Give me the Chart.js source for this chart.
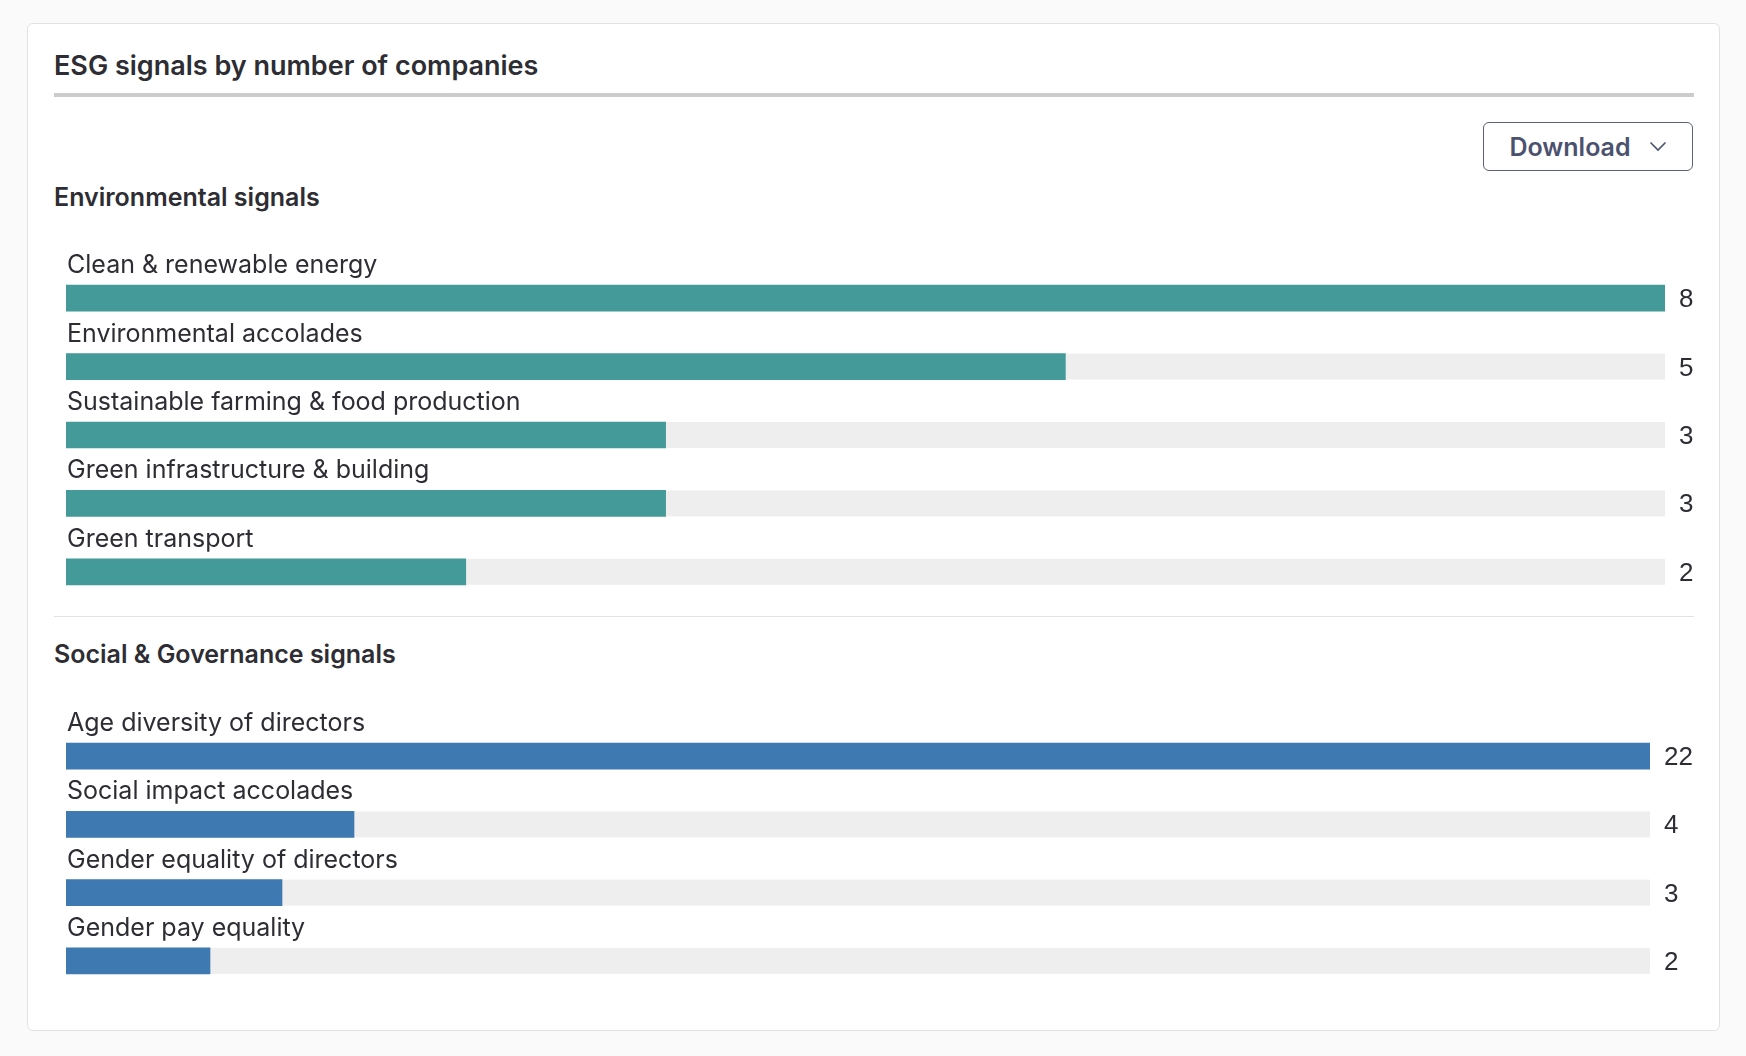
<!DOCTYPE html>
<html>
<head>
<meta charset="utf-8">
<script src="https://cdn.jsdelivr.net/npm/chart.js@4.4.1/dist/chart.umd.min.js"></script>
<style>
  html, body { margin:0; padding:0; background:#fafafa; }
  body { width:1746px; height:1056px; position:relative; overflow:hidden; font-family: Inter, "Noto Sans", sans-serif; color:#2d2d33; }
  .card { position:absolute; left:27px; top:23px; width:1693px; height:1008px; background:#fff; border:1px solid #e2e2e2; border-radius:6px; box-sizing:border-box; }
  .t { position:absolute; white-space:nowrap; line-height:1; }
  .title { left:54px; top:52px; font-size:27px; font-weight:600; }
  .rule { position:absolute; left:54px; top:93px; width:1640px; height:4px; background:#cccccc; }
  .sep { position:absolute; left:54px; top:616px; width:1640px; height:1px; background:#e3e3e3; }
  .sub { left:54px; font-size:25px; font-weight:600; }
  .btn { position:absolute; left:1483px; top:122px; width:210px; height:49px; box-sizing:border-box; border:1.5px solid #5b6178; border-radius:6px; display:flex; align-items:center; justify-content:center; gap:18px; color:#4b5270; font-size:25px; font-weight:600; }
  canvas { position:absolute; }
</style>
</head>
<body>
<div class="card"></div>
<div class="t title">ESG signals by number of companies</div>
<div class="rule"></div>
<div class="btn"><span>Download</span><svg width="18" height="11" viewBox="0 0 18 11"><polyline points="1.5,1.5 9,9 16.5,1.5" fill="none" stroke="#4b5270" stroke-width="1.6"/></svg></div>
<div class="t sub" style="top:185px">Environmental signals</div>
<div class="sep"></div>
<div class="t sub" style="top:642px">Social &amp; Governance signals</div>

<div style="position:absolute;left:54px;top:230px;width:1640px;height:376px;"><canvas id="env"></canvas></div>
<div style="position:absolute;left:54px;top:690px;width:1640px;height:305px;"><canvas id="soc"></canvas></div>

<script>
// ---- data ----
const envCategories = ["Clean & renewable energy", "Environmental accolades", "Sustainable farming & food production", "Green infrastructure & building", "Green transport"];
const envValues = [8, 5, 3, 3, 2];
const socCategories = ["Age diversity of directors", "Social impact accolades", "Gender equality of directors", "Gender pay equality"];
const socValues = [22, 4, 3, 2];

// ---- style ----
const TEAL = "#449a99";
const BLUE = "#3e79b1";
const TRACK = "#eeeeee";
const TEXT = "#2d2d33";
const LABEL_FONT = "400 25px Inter, 'Noto Sans', sans-serif";
const VALUE_FONT = "400 26px 'Liberation Sans', Arial, Helvetica, sans-serif";
const VALUE_GAP = 15;

const decor = {
  id: 'decor',
  beforeDatasetsDraw(chart) {
    const { ctx, chartArea } = chart;
    const meta = chart.getDatasetMeta(0);
    ctx.save();
    ctx.fillStyle = TRACK;
    meta.data.forEach(bar => {
      const h = bar.height;
      ctx.fillRect(chartArea.left, bar.y - h / 2, chartArea.right - chartArea.left, h);
    });
    ctx.restore();
  },
  afterDatasetsDraw(chart) {
    const { ctx, chartArea } = chart;
    const meta = chart.getDatasetMeta(0);
    const labels = chart.data.labels;
    const vals = chart.data.datasets[0].data;
    ctx.save();
    ctx.fillStyle = TEXT;
    ctx.textBaseline = 'alphabetic';
    meta.data.forEach((bar, i) => {
      const top = bar.y - bar.height / 2;
      ctx.font = LABEL_FONT;
      ctx.textAlign = 'left';
      ctx.fillText(labels[i], chartArea.left + 1, top - 12);
      ctx.font = VALUE_FONT;
      ctx.fillText(String(vals[i]), chartArea.right + VALUE_GAP - 1, bar.y + 9);
    });
    ctx.restore();
  }
};

function measure(font, texts) {
  const c = document.createElement('canvas').getContext('2d');
  c.font = font;
  return Math.max(...texts.map(t => c.measureText(t).width));
}

function makeChart(id, cats, vals, color, padTop) {
  const valueW = measure(VALUE_FONT, vals.map(String));
  return new Chart(document.getElementById(id), {
    type: 'bar',
    data: {
      labels: cats,
      datasets: [{ data: vals, backgroundColor: color, borderWidth: 0, barThickness: 26 }]
    },
    options: {
      indexAxis: 'y',
      responsive: true,
      maintainAspectRatio: false,
      animation: false,
      events: [],
      layout: { padding: { top: padTop, left: 12, right: Math.round(valueW + VALUE_GAP), bottom: 0 } },
      plugins: { legend: { display: false }, tooltip: { enabled: false } },
      scales: {
        x: { display: false, min: 0, max: Math.max(...vals) },
        y: { display: false, grid: { display: false } }
      }
    },
    plugins: [decor]
  });
}

function go() {
  makeChart('env', envCategories, envValues, TEAL, 34);
  makeChart('soc', socCategories, socValues, BLUE, 32);
}
if (document.fonts && document.fonts.load) {
  Promise.all([document.fonts.load(LABEL_FONT), document.fonts.load(VALUE_FONT)]).then(go, go);
} else { go(); }
</script>
</body>
</html>
